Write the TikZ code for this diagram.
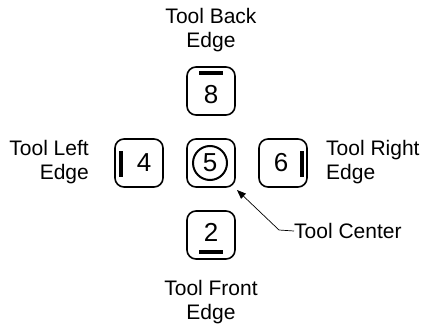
\documentclass[tikz,border=0pt]{standalone}
\usepackage{fontspec}
\setmainfont{Liberation Sans}
\usetikzlibrary{arrows.meta}
\begin{document}
\begin{tikzpicture}[x=1pt,y=-1pt,
  keybox/.style={draw, line width=1.6pt, rounded corners=9pt, minimum width=48pt, minimum height=48pt, inner sep=0pt},
  digit/.style={font=\fontsize{26}{26}\selectfont, inner sep=0pt},
  lbl/.style={font=\fontsize{21}{24.5}\selectfont, inner sep=0pt},
  bar/.style={line width=3.2pt},
  leader/.style={line width=0.7pt}]
\useasboundingbox (0,0) rectangle (422,329);
% keys
\node[keybox] (k8) at (211,91) {};
\node[keybox] (k5) at (211,163) {};
\node[keybox] (k2) at (211,235) {};
\node[keybox] (k4) at (139,163) {};
\node[keybox] (k6) at (283,163) {};
% digits
\node[digit] (d8) at (211,95) {8};
\node[digit] (d5) at (210,163) {5};
\node[draw, circle, line width=2pt, minimum size=34pt, inner sep=0pt] (c5) at (210,163) {};
\node[digit] (d2) at (211,232) {2};
\node[digit] (d4) at (144,163) {4};
\node[digit] (d6) at (281,163) {6};
% edge marks
\coordinate (b8a) at (199,73); \coordinate (b8b) at (223,73);
\draw[bar] (b8a) -- (b8b);
\coordinate (b2a) at (199,252); \coordinate (b2b) at (223,252);
\draw[bar] (b2a) -- (b2b);
\coordinate (b4a) at (121,151); \coordinate (b4b) at (121,177);
\draw[bar] (b4a) -- (b4b);
\coordinate (b6a) at (302,151); \coordinate (b6b) at (302,177);
\draw[bar] (b6a) -- (b6b);
% labels
\node[lbl, align=center] (tb) at (211,30) {Tool Back\\Edge};
\node[lbl, align=center] (tf) at (211,302) {Tool Front\\Edge};
\node[lbl, align=right, anchor=east] (tl) at (89,162) {Tool Left\\Edge};
\node[lbl, align=left, anchor=west] (tr) at (326,162) {Tool Right\\Edge};
\node[lbl, anchor=west] (tc) at (294,231) {Tool Center};
% leader
\coordinate (bend) at (279,230);
\coordinate (tip) at (237,190);
\draw[leader, -{Triangle[length=9pt,width=7pt]}] (tc.west) -- (bend) -- (tip);
\end{tikzpicture}
\end{document}
